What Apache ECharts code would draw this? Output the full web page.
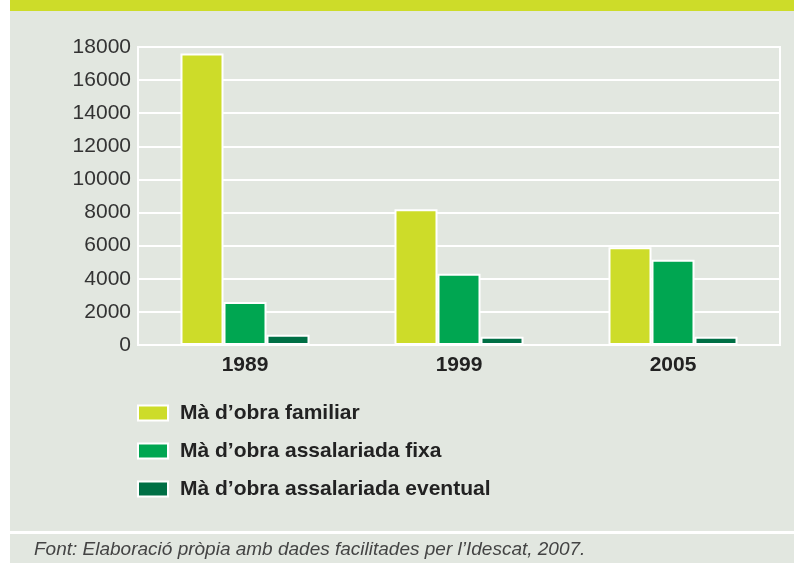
<!DOCTYPE html>
<html>
<head>
<meta charset="utf-8">
<script src="https://cdn.jsdelivr.net/npm/echarts@6/dist/echarts.min.js"></script>
<style>
html,body{margin:0;padding:0;background:#ffffff;}
#c{width:794px;height:563px;}
</style>
</head>
<body>
<div id="c"></div>
<script>
const categories = ['1989', '1999', '2005'];
const seriesNames = ["Mà d’obra familiar", "Mà d’obra assalariada fixa", "Mà d’obra assalariada eventual"];
const familiar = [17600, 8200, 5900];
const fixa = [2600, 4300, 5150];
const eventual = [620, 500, 500];
const yTicks = { min: 0, max: 18000, interval: 2000 };
const footnote = "Font: Elaboració pròpia amb dades facilitades per l’Idescat, 2007.";

const colors = ['#cddc29', '#00a651', '#006f45'];
const bg = '#e2e7e0';
const FF = '"Liberation Sans", Arial, sans-serif';

const chart = echarts.init(document.getElementById('c'), null, { renderer: 'canvas' });
const mk = (name, data, color) => ({
  name: name,
  type: 'bar',
  data: data,
  barWidth: 43,
  barGap: '0%',
  itemStyle: { color: color, borderColor: '#ffffff', borderWidth: 2 },
  emphasis: { disabled: true },
  z: 3
});
chart.setOption({
  animation: false,
  backgroundColor: '#ffffff',
  graphic: [
    { type: 'rect', z: -10, shape: { x: 10, y: 0, width: 784, height: 531 }, style: { fill: bg } },
    { type: 'rect', z: -9, shape: { x: 10, y: 0, width: 784, height: 11 }, style: { fill: '#cddc29' } },
    { type: 'rect', z: -10, shape: { x: 10, y: 534, width: 784, height: 29 }, style: { fill: bg } },
    { type: 'text', left: 34, top: 540, style: { text: footnote, fill: '#444', font: 'italic 19px ' + FF } }
  ],
  grid: { left: 138, right: 14, top: 47, bottom: 218, show: true, borderColor: '#ffffff', borderWidth: 2, backgroundColor: 'transparent' },
  xAxis: {
    type: 'category',
    data: categories,
    axisLine: { show: true, lineStyle: { color: '#ffffff', width: 2 } },
    axisTick: { show: false },
    axisLabel: { color: '#222', fontSize: 21, fontWeight: 'bold', fontFamily: FF, margin: 10 }
  },
  yAxis: {
    type: 'value',
    min: yTicks.min, max: yTicks.max, interval: yTicks.interval,
    axisLine: { show: false },
    axisTick: { show: false },
    splitLine: { lineStyle: { color: '#ffffff', width: 2 } },
    axisLabel: { color: '#333', fontSize: 21, fontFamily: FF, margin: 7, formatter: v => String(v) }
  },
  legend: {
    orient: 'vertical',
    left: 137,
    top: 402,
    padding: 0,
    itemWidth: 30,
    itemHeight: 15,
    itemGap: 16,
    icon: 'rect',
    selectedMode: false,
    textStyle: { color: '#222', fontSize: 21, fontWeight: 'bold', fontFamily: FF, lineHeight: 22, padding: [0, 0, 0, 7] },
    data: seriesNames.map((n, i) => ({ name: n, itemStyle: { color: colors[i], borderColor: '#ffffff', borderWidth: 2 } }))
  },
  series: [
    mk(seriesNames[0], familiar, colors[0]),
    mk(seriesNames[1], fixa, colors[1]),
    mk(seriesNames[2], eventual, colors[2])
  ]
});
</script>
</body>
</html>
